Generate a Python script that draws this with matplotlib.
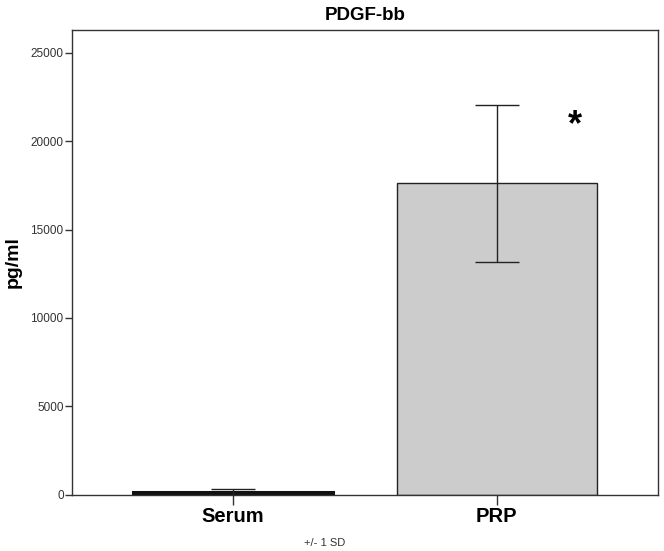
import matplotlib
matplotlib.use("Agg")
import matplotlib.pyplot as plt

plt.rcParams['font.family'] = ['Liberation Sans', 'DejaVu Sans']

categories = ["Serum", "PRP"]
means = [120, 17620]
sds = [200, 4430]
title = "PDGF-bb"
ylabel = "pg/ml"
yticks = [0, 5000, 10000, 15000, 20000, 25000]

fig = plt.figure(figsize=(6.64, 5.51), dpi=100)
ax = fig.add_axes([0.1084, 0.1025, 0.8826, 0.8431])
x = list(range(len(categories)))
bars = ax.bar(x, means, width=0.756, color="#cccccc", edgecolor="#222222", linewidth=1.0, zorder=2)
bars[0].set_linewidth(2.2)
bars[0].set_edgecolor("#111111")
ax.errorbar(x, means, yerr=sds, fmt='none', ecolor="#222222", elinewidth=1.0,
            capsize=15.5, capthick=1.0, zorder=3)
ax.set_xlim(-0.611, 1.611)
ax.set_ylim(0, 26300)
ax.set_yticks(yticks)
ax.set_yticklabels([str(v) for v in yticks], fontsize=8.5, color="#333333")
ax.set_xticks(x)
ax.set_xticklabels(categories, fontsize=14.5, fontweight='bold')
ax.tick_params(axis='y', length=5, width=1, color="#333333", pad=1)
ax.tick_params(axis='x', length=7, width=1, color="#333333", pad=2)
for s in ax.spines.values():
    s.set_color("#333333")
    s.set_linewidth(1.0)
ax.set_ylabel(ylabel, fontsize=14, fontweight='bold')
ax.yaxis.set_label_coords(-0.085, 0.5)
ax.set_title(title, fontsize=13.5, fontweight='bold', pad=7)
ax.text(1.296, 20900, "*", fontsize=26, fontweight='bold', ha='center', va='center')
fig.text(325/664, 1 - 543/551, "+/- 1 SD", fontsize=8, ha='center', va='center', color="#333333")
fig.savefig("out.png", dpi=100)
